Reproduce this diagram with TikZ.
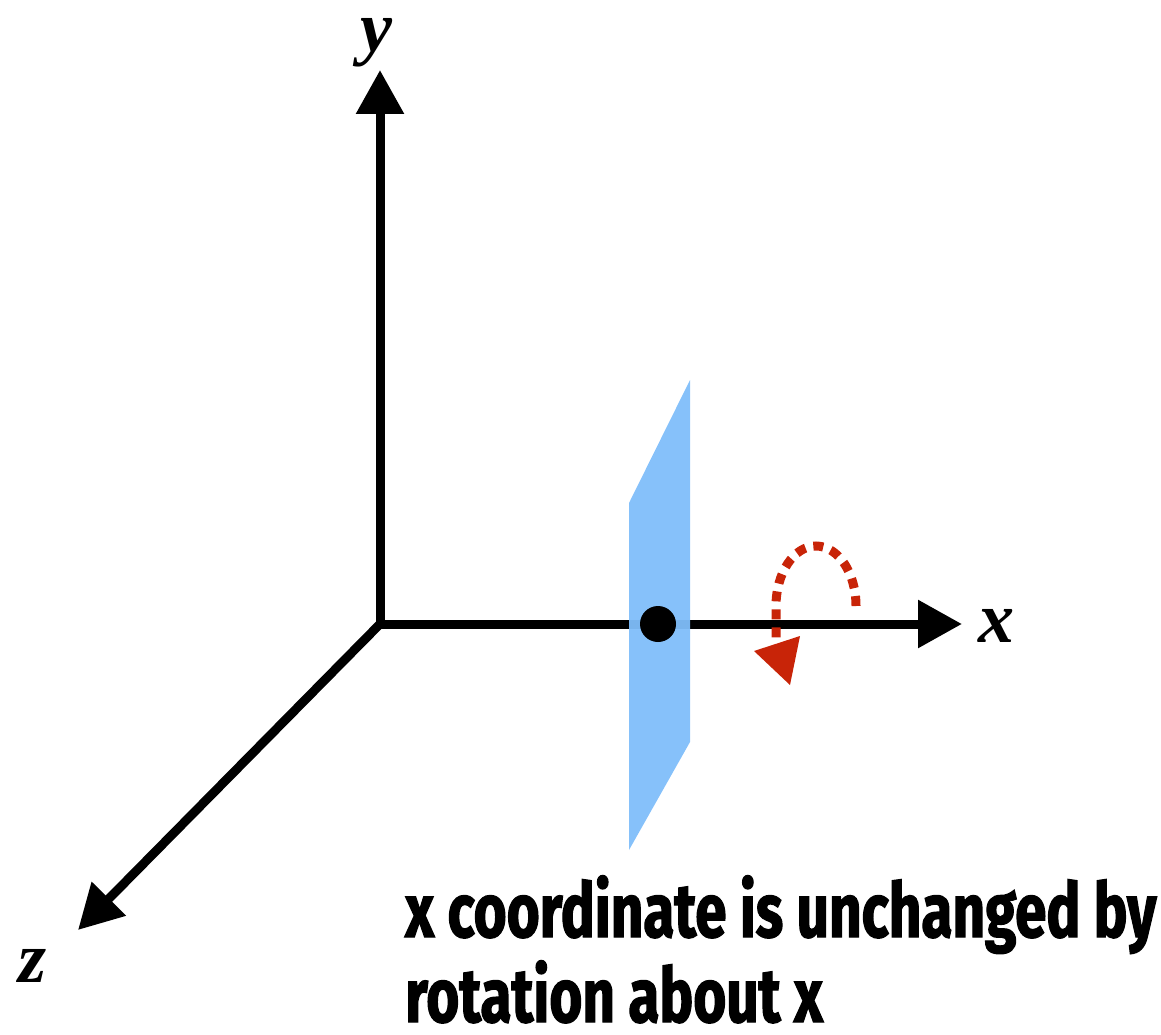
\documentclass[tikz,border=0pt]{standalone}
\usepackage{fontspec}
\setmainfont{Liberation Serif}
\newfontfamily\capfont[FakeStretch=0.745,FakeBold=1.6]{Fira Sans}
\usetikzlibrary{arrows.meta}
\definecolor{planeblue}{RGB}{128,190,250}
\definecolor{rotred}{RGB}{200,36,8}
\begin{document}
\begin{tikzpicture}[x=1pt,y=-1pt,
  axis/.style={line width=9pt,-{Triangle[length=44pt,width=46pt]}},
  axlabel/.style={font=\fontsize{72}{72}\selectfont\bfseries\itshape,inner sep=0pt},
  caption/.style={font=\fontsize{76}{76}\selectfont\capfont\bfseries,anchor=base west,inner sep=0pt}]
\useasboundingbox (0,0) rectangle (1161,1035);
\coordinate (O) at (380,624);
\coordinate (Ytip) at (380,70);
\coordinate (Xtip) at (962,624);
\coordinate (Ztip) at (78,930);
\draw[axis] (O) -- (Ytip);
\draw[axis] (O) -- (Xtip);
\draw[axis] (O) -- (Ztip);
\node[axlabel] (ylab) at (376,43) {y};
\node[axlabel] (xlab) at (996,626) {x};
\node[axlabel] (zlab) at (33,966) {z};
% plane
\fill[planeblue,fill opacity=0.95] (629,503) -- (690,380) -- (690,742) -- (629,850) -- cycle;
\fill[black] (658,624) circle (18);
% rotation arrow
\draw[rotred,line width=9pt,dash pattern=on 10pt off 8pt]
  (856,606) arc[start angle=0,end angle=-180,x radius=40,y radius=60] -- (776,644);
\fill[rotred] (754,651) -- (800,636) -- (790,685) -- cycle;
\node[caption] (c1) at (405,937) {x coordinate is unchanged by};
\node[caption] (c2) at (405,1022) {rotation about x};
\end{tikzpicture}
\end{document}
